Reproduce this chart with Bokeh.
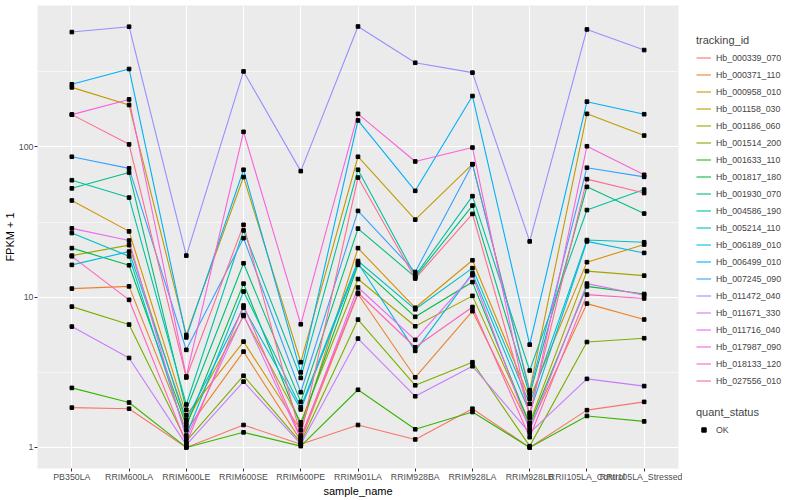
from bokeh.plotting import figure
from bokeh.layouts import row
from bokeh.models import (Range1d, FactorRange, FixedTicker, BasicTickFormatter,
                          Legend, LegendItem, ColumnDataSource)
from bokeh.embed import file_html
from bokeh.resources import INLINE

samples = ["PB350LA", "RRIM600LA", "RRIM600LE", "RRIM600SE", "RRIM600PE",
           "RRIM901LA", "RRIM928BA", "RRIM928LA", "RRIM928LB",
           "RRII105LA_Control", "RRII105LA_Stressed"]

tracking_ids = ["Hb_000339_070", "Hb_000371_110", "Hb_000958_010", "Hb_001158_030",
                "Hb_001186_060", "Hb_001514_200", "Hb_001633_110", "Hb_001817_180",
                "Hb_001930_070", "Hb_004586_190", "Hb_005214_110", "Hb_006189_010",
                "Hb_006499_010", "Hb_007245_090", "Hb_011472_040", "Hb_011671_330",
                "Hb_011716_040", "Hb_017987_090", "Hb_018133_120", "Hb_027556_010"]

palette = ["#F8766D", "#EA8331", "#D89000", "#C09B00", "#A3A500", "#7CAE00",
           "#39B600", "#00BB4E", "#00BF7D", "#00C1A3", "#00BFC4", "#00BAE0",
           "#00B0F6", "#35A2FF", "#9590FF", "#C77CFF", "#E76BF3", "#FA62DB",
           "#FF62BC", "#FF6C91"]

# FPKM + 1 per sample, one list per tracking_id
hb_000339_070 = [1.84, 1.81, 1.0, 1.41, 1.05, 1.41, 1.13, 1.81, 1.0, 1.77, 2.01]
hb_000371_110 = [11.4, 11.8, 1.3, 4.34, 1.11, 10.5, 2.93, 8.07, 1.36, 9.06, 7.1]
hb_000958_010 = [44, 27.4, 1.64, 5.06, 1.3, 21.2, 8.5, 17.6, 2.11, 17.1, 22.4]
hb_001158_030 = [249, 190, 5.6, 63, 3.69, 86, 32.8, 76.7, 2.4, 166, 119]
hb_001186_060 = [18.9, 22.2, 1.46, 7.5, 1.47, 13.2, 6.4, 10.2, 1.46, 14.9, 13.9]
hb_001514_200 = [8.65, 6.57, 1.10, 3.0, 1.08, 7.09, 2.59, 3.69, 1.02, 5.03, 5.33]
hb_001633_110 = [2.49, 1.99, 1.0, 1.26, 1.02, 2.42, 1.32, 1.72, 1.0, 1.62, 1.49]
hb_001817_180 = [21.2, 16.3, 1.39, 12.3, 1.4, 16.4, 7.4, 12.6, 1.41, 11.8, 10.5]
hb_001930_070 = [53, 67.5, 1.78, 16.8, 2.01, 28.6, 13.6, 40.7, 2.24, 54.2, 36]
hb_004586_190 = [60, 46, 1.93, 27.8, 2.9, 70.5, 13.9, 47, 3.25, 38, 52]
hb_005214_110 = [26.7, 18.7, 1.2, 10.9, 1.85, 17.4, 8.3, 15.6, 1.95, 24, 23.2]
hb_006189_010 = [16.4, 20.1, 1.53, 8.5, 1.79, 16.8, 4.39, 14.4, 1.70, 23.5, 19.7]
hb_006499_010 = [261, 330, 5.4, 70.5, 3.16, 150, 51, 218, 4.83, 200, 165]
hb_007245_090 = [86, 72, 4.46, 24.7, 2.33, 37.5, 14.7, 76.7, 2.33, 72.7, 63.2]
hb_011472_040 = [581, 631, 18.9, 318, 69, 633, 363, 312, 23.5, 605, 441]
hb_011671_330 = [6.37, 3.94, 1.04, 2.74, 1.05, 5.3, 2.19, 3.47, 1.25, 2.86, 2.56]
hb_011716_040 = [28.7, 23.8, 1.15, 7.6, 1.14, 11.6, 5.2, 14, 1.3, 12.3, 10.3]
hb_017987_090 = [164, 207, 2.97, 126, 6.6, 166, 80, 99, 1.58, 101, 65.2]
hb_018133_120 = [18.7, 9.6, 1.06, 8.8, 1.17, 10.7, 4.64, 8.6, 1.17, 10.4, 9.8]
hb_027556_010 = [164, 104, 2.92, 30.3, 1.2, 62.5, 13.3, 35.8, 1.66, 61, 49.3]

series = [hb_000339_070, hb_000371_110, hb_000958_010, hb_001158_030, hb_001186_060,
          hb_001514_200, hb_001633_110, hb_001817_180, hb_001930_070, hb_004586_190,
          hb_005214_110, hb_006189_010, hb_006499_010, hb_007245_090, hb_011472_040,
          hb_011671_330, hb_011716_040, hb_017987_090, hb_018133_120, hb_027556_010]

y_ticks = [1, 10, 100]
y_minor = [0.3162, 3.162, 31.62, 316.2]

FONT = "Liberation Sans"
FIG_H = 499

p = figure(output_backend="svg", toolbar_location=None,
           x_range=FactorRange(factors=samples, range_padding=0.1,
                               range_padding_units="absolute"),
           y_range=Range1d(0.724, 873), y_axis_type="log",
           frame_width=641, height=FIG_H,
           min_border_left=32, min_border_right=4, min_border_top=5,
           min_border_bottom=0)

p.background_fill_color = "#EBEBEB"
p.border_fill_color = "white"
p.outline_line_color = None

line_renderers = []
for vals, col in zip(series, palette):
    src = ColumnDataSource(dict(x=samples, y=vals))
    r = p.line("x", "y", source=src, line_color=col, line_width=1.1)
    line_renderers.append(r)

all_x = [s for vals in series for s in samples]
all_y = [v for vals in series for v in vals]
p.scatter(x=all_x, y=all_y, marker="square", size=3.6,
          fill_color="black", line_color="black")

# grid
p.xgrid.grid_line_color = "white"
p.xgrid.grid_line_width = 1.1
p.ygrid.grid_line_color = "white"
p.ygrid.grid_line_width = 1.1
p.ygrid.minor_grid_line_color = "white"
p.ygrid.minor_grid_line_width = 0.55

# axes
p.yaxis.ticker = FixedTicker(ticks=y_ticks, minor_ticks=y_minor)
p.yaxis.formatter = BasicTickFormatter(use_scientific=False)
for ax in (p.xaxis[0], p.yaxis[0]):
    ax.axis_line_color = None
    ax.major_tick_line_color = "#333333"
    ax.major_tick_line_width = 1
    ax.major_tick_out = 3
    ax.major_tick_in = 0
    ax.minor_tick_line_color = None
    ax.major_label_text_font = FONT
    ax.major_label_text_font_size = "8.8px"
    ax.major_label_text_color = "#4D4D4D"
    ax.axis_label_text_font = FONT
    ax.axis_label_text_font_size = "11px"
    ax.axis_label_text_font_style = "normal"
    ax.axis_label_text_color = "black"
p.xaxis.axis_label = "sample_name"
p.yaxis.axis_label = "FPKM + 1"
p.xaxis.major_label_standoff = 0
p.xaxis.axis_label_standoff = 0
p.yaxis.axis_label_standoff = 0
p.yaxis.major_label_standoff = 0

# legend panel: a second figure that only carries the two legends
lg = figure(output_backend="svg", toolbar_location=None, width=104, height=FIG_H,
            x_range=FactorRange(factors=samples), y_range=Range1d(0.724, 873),
            y_axis_type="log", x_axis_type=None, min_border=0)
lg.xaxis.visible = False
lg.yaxis.visible = False
lg.grid.visible = False
lg.outline_line_color = None
lg.background_fill_color = "white"

key_lines = []
for vals, col in zip(series, palette):
    src = ColumnDataSource(dict(x=samples, y=vals))
    r = lg.line("x", "y", source=src, line_color=col, line_width=1.1)
    r.visible = False
    key_lines.append(r)
key_pts = lg.scatter(x=all_x, y=all_y, marker="square", size=3.6,
                     fill_color="black", line_color="black")
key_pts.visible = False

common = dict(label_height=17, spacing=0, label_standoff=5, padding=4,
              title_standoff=3, label_text_font=FONT, label_text_font_size="8.8px",
              title_text_font=FONT, title_text_font_size="11px",
              title_text_font_style="normal", background_fill_alpha=0,
              border_line_color=None, glyph_width=15)
leg1 = Legend(items=[LegendItem(label=t, renderers=[r]) for t, r in zip(tracking_ids, key_lines)],
              title="tracking_id", location=(14, 79), glyph_height=17, **common)
leg2 = Legend(items=[LegendItem(label="OK", renderers=[key_pts])], title="quant_status",
              location=(14, 30), glyph_height=11, **common)
lg.add_layout(leg1)
lg.add_layout(leg2)

layout = row(p, lg)
open("out.html", "w").write(file_html(layout, INLINE))
